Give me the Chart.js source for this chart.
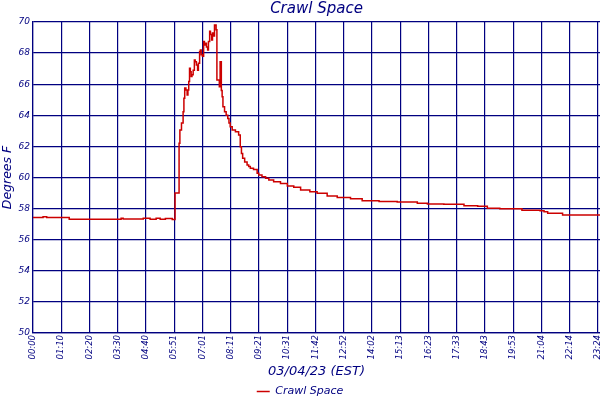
<!DOCTYPE html>
<html>
<head>
<meta charset="utf-8">
<title>Crawl Space</title>
<script src="https://cdn.jsdelivr.net/npm/chart.js@4/dist/chart.umd.min.js"></script>
<style>
  html, body { margin: 0; padding: 0; background: #fff; }
</style>
</head>
<body>
<canvas id="tempChart" width="600" height="400"></canvas>
<script>
// minutes since midnight of each logged reading
const timeMin = [0, 25, 34, 90, 219, 224, 274, 291, 306, 316,
  329, 346, 353, 363, 365, 369, 373, 375, 377, 380,
  383, 385, 387, 389, 391, 393, 395, 398, 401, 403,
  406, 409, 411, 414, 416, 418, 421, 424, 426, 429,
  431, 434, 436, 439, 441, 444, 446, 449, 451, 455,
  457, 463, 465, 468, 470, 472, 476, 480, 484, 487,
  490, 495, 503, 511, 515, 518, 521, 526, 532, 536,
  540, 548, 557, 561, 569, 578, 586, 598, 615, 632,
  648, 665, 688, 706, 731, 756, 789, 818, 860, 905,
  955, 980, 1021, 1071, 1105, 1129, 1160, 1215, 1260, 1270,
  1279, 1316, 1387, 1409];

const tempF = [57.48, 57.42, 57.48, 57.42, 57.32, 57.38, 57.33, 57.38, 57.32, 57.38,
  57.32, 57.36, 57.30, 59.0, 62.2, 63.05, 63.5, 64.23, 65.1, 65.75,
  65.63, 65.3, 65.63, 66.17, 67.03, 66.8, 66.5, 66.6, 66.9, 67.55,
  67.45, 67.23, 66.9, 67.35, 68.1, 68.2, 67.9, 67.8, 68.75, 68.52,
  68.63, 68.4, 68.2, 68.75, 69.4, 69.2, 68.85, 69.3, 69.1, 69.8,
  69.5, 66.27, 65.84, 67.45, 65.6, 65.2, 64.55, 64.23, 64.0, 63.8,
  63.5, 63.27, 63.05, 62.95, 62.73, 61.98, 61.55, 61.23, 61.0, 60.8,
  60.7, 60.59, 60.52, 60.27, 60.16, 60.05, 59.95, 59.84, 59.73, 59.62,
  59.45, 59.37, 59.2, 59.09, 58.98, 58.81, 58.72, 58.64, 58.51, 58.45,
  58.42, 58.34, 58.3, 58.28, 58.19, 58.15, 58.02, 57.99, 57.9, 57.86,
  57.8, 57.7, 57.59, 57.59];

const xTickLabels = ['00:00', '01:10', '02:20', '03:30', '04:40', '05:51', '07:01',
  '08:11', '09:21', '10:31', '11:42', '12:52', '14:02', '15:13', '16:23', '17:33',
  '18:43', '19:53', '21:04', '22:14', '23:24'];
const xTickStep = 70.2;   // minutes between labelled grid lines
const xMax = 1409;

const yMin = 50, yMax = 70, yStep = 2;

const NAVY = '#000080';
const RED = '#cc0000';
const FONT = 'DejaVu Sans';

new Chart(document.getElementById('tempChart'), {
  type: 'line',
  data: {
    datasets: [{
      label: 'Crawl Space',
      data: timeMin.map((m, i) => ({ x: m, y: tempF[i] })),
      borderColor: RED,
      backgroundColor: RED,
      borderWidth: 1.5,
      pointRadius: 0,
      stepped: 'after',
      fill: false
    }]
  },
  options: {
    responsive: false,
    animation: false,
    layout: { padding: 0 },
    scales: {
      x: {
        type: 'linear',
        min: 0,
        max: xMax,
        afterBuildTicks: s => {
          s.ticks = xTickLabels.map((_, i) => ({ value: i * xTickStep }));
        },
        afterFit: s => { s.paddingLeft = 0; s.paddingRight = 0; s.height = 53; },
        ticks: {
          autoSkip: false,
          minRotation: 90,
          maxRotation: 90,
          padding: 2,
          color: NAVY,
          font: { family: FONT, style: 'italic', size: 8.5 },
          callback: (v, i) => xTickLabels[i]
        },
        grid: { color: NAVY, lineWidth: 1.2, drawTicks: false },
        border: { color: NAVY, width: 1.2 },
        title: {
          display: true,
          text: '03/04/23 (EST)',
          color: NAVY,
          font: { family: FONT, style: 'italic', size: 13 },
          padding: { top: 0, bottom: 7 }
        }
      },
      y: {
        min: yMin,
        max: yMax,
        z: 1,
        afterFit: s => { s.width = 33; },
        ticks: {
          stepSize: yStep,
          padding: 3,
          color: NAVY,
          font: { family: FONT, style: 'italic', size: 9 }
        },
        grid: { color: NAVY, lineWidth: 1.2, drawTicks: false },
        border: { color: NAVY, width: 1.2 },
        title: {
          display: true,
          text: 'Degrees F',
          color: NAVY,
          font: { family: FONT, style: 'italic', size: 12.5 },
          padding: 0
        }
      }
    },
    plugins: {
      title: {
        display: true,
        text: 'Crawl Space',
        fullSize: false,
        color: NAVY,
        font: { family: FONT, style: 'italic', size: 15, weight: 'normal' },
        padding: { top: 0, bottom: 4 }
      },
      legend: {
        position: 'bottom',
        maxHeight: 14,
        labels: {
          usePointStyle: true,
          pointStyle: 'line',
          pointStyleWidth: 13,
          padding: 0,
          color: NAVY,
          font: { family: FONT, style: 'italic', size: 11 }
        }
      },
      tooltip: { enabled: false }
    }
  }
});
</script>
</body>
</html>
